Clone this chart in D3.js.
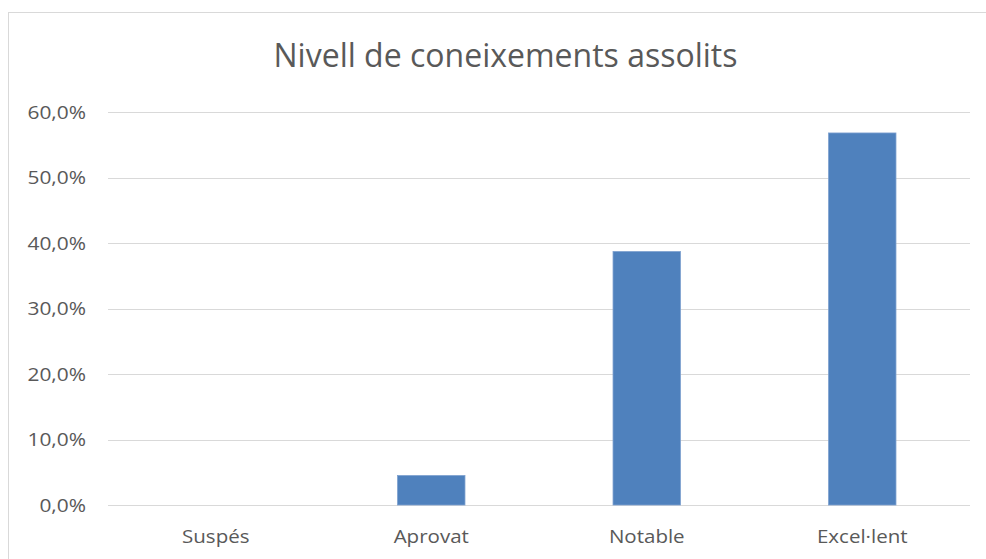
<!DOCTYPE html>
<html><head><meta charset="utf-8">
<script src="https://cdn.jsdelivr.net/npm/d3@7"></script>
<style>body{margin:0;background:#fff;}svg{display:block;}</style>
</head><body>
<script>
const title = "Nivell de coneixements assolits";
const categories = ["Suspés", "Aprovat", "Notable", "Excel·lent"];
const values = [0.0, 4.5, 38.7, 56.8];
const yTicks = [0, 10, 20, 30, 40, 50, 60];

const W = 986, H = 559;
const svg = d3.select("body").append("svg").attr("width", W).attr("height", H);
const font = "'Open Sans', sans-serif";
const textColor = "#595959";

function stretch(sel, k) {
  sel.each(function() {
    const w = this.getComputedTextLength();
    d3.select(this).attr("textLength", w * k).attr("lengthAdjust", "spacingAndGlyphs");
  });
}

// chart area border
svg.append("rect").attr("x", 8.5).attr("y", 12.5).attr("width", W).attr("height", H)
  .attr("fill", "none").attr("stroke", "#d9d9d9").attr("stroke-width", 1);

const plot = {left: 108, right: 970, top: 112, bottom: 505};
const x = d3.scaleBand().domain(categories).range([plot.left, plot.right]).paddingInner(0.687).paddingOuter(0.3435);
const y = d3.scaleLinear().domain([0, 60]).range([plot.bottom, plot.top]);

// gridlines
svg.append("g").selectAll("line").data(yTicks).join("line")
  .attr("x1", plot.left).attr("x2", plot.right)
  .attr("y1", d => Math.round(y(d)) + 0.5).attr("y2", d => Math.round(y(d)) + 0.5)
  .attr("stroke", "#d9d9d9").attr("stroke-width", 1);

// y axis labels
const yAxis = d3.axisLeft(y).tickValues(yTicks).tickSize(0).tickPadding(0)
  .tickFormat(d => d3.format(".1f")(d).replace(".", ",") + "%");
const gy = svg.append("g").attr("transform", `translate(86,0)`).call(yAxis);
gy.select(".domain").remove();
gy.selectAll("text").attr("font-family", font).attr("font-size", 19).attr("fill", textColor);
stretch(gy.selectAll("text"), 1.1);

// bars
svg.append("g").selectAll("rect").data(values).join("rect")
  .attr("x", (d, i) => x(categories[i]))
  .attr("width", x.bandwidth())
  .attr("y", d => y(d))
  .attr("height", d => y(0) - y(d))
  .attr("fill", "#4f81bd")
  .attr("stroke", "#7ea1cf").attr("stroke-width", 0.8);

// x axis labels
const xAxis = d3.axisBottom(x).tickSize(0).tickPadding(0);
const gx = svg.append("g").attr("transform", `translate(0,${plot.bottom})`).call(xAxis);
gx.select(".domain").remove();
gx.selectAll("text").attr("font-family", font).attr("font-size", 19).attr("fill", textColor)
  .attr("dy", null).attr("y", 38);
stretch(gx.selectAll("text"), 1.08);

// title
svg.append("text").attr("x", 505.5).attr("y", 67).attr("text-anchor", "middle")
  .attr("font-family", font).attr("font-size", 32).attr("fill", textColor).text(title);
</script>
</body></html>
